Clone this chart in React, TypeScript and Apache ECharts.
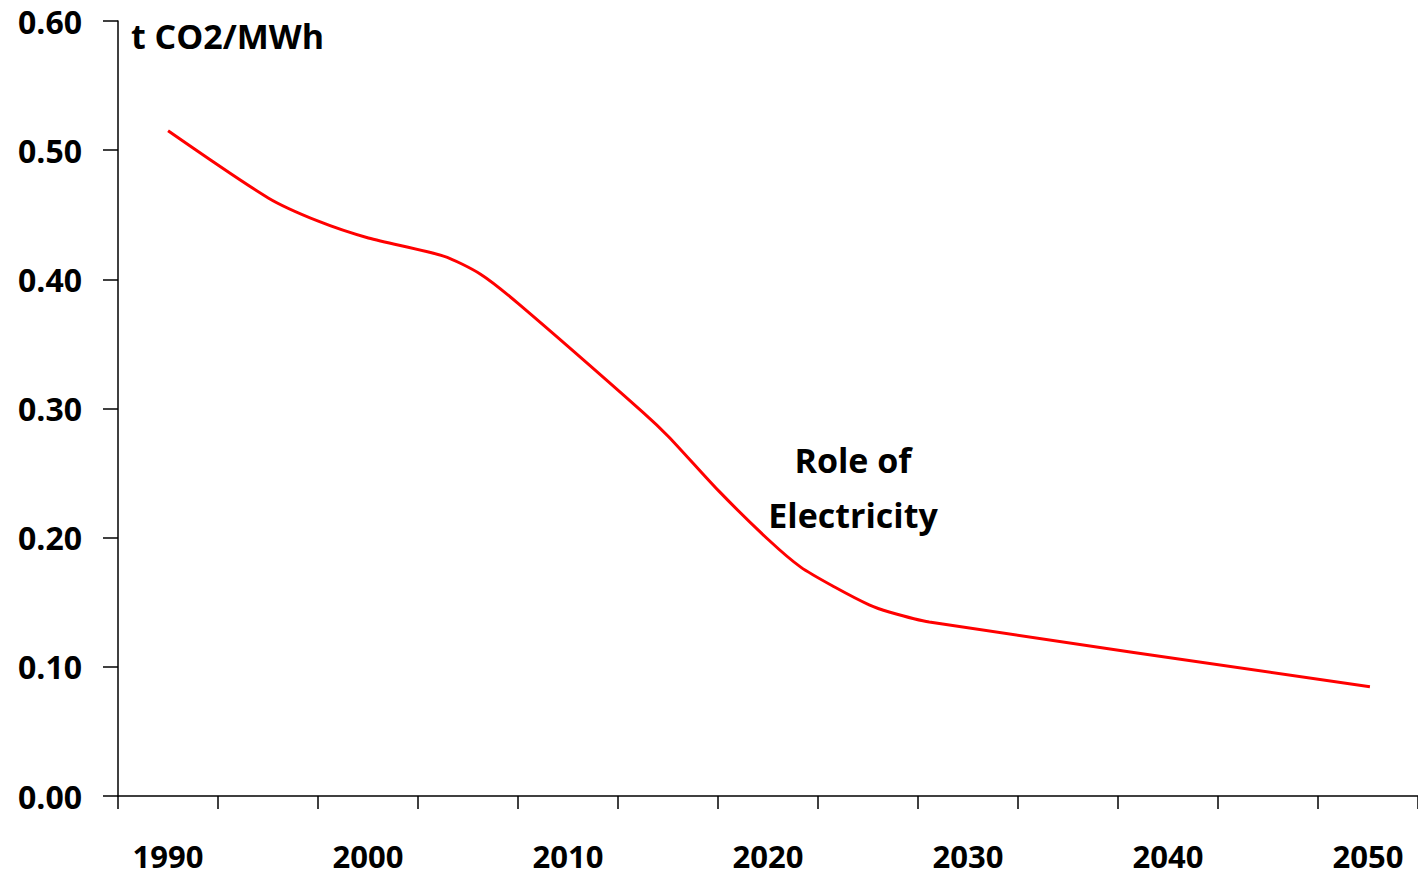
import React, { useEffect, useRef } from "react";
import * as echarts from "echarts";

const categories = ["1990", "1995", "2000", "2005", "2010", "2015", "2020", "2025", "2030", "2035", "2040", "2045", "2050"];
const years = [1990, 1995, 1997.5, 2000, 2003.75, 2005.6, 2007.5, 2013.75, 2015, 2017.5, 2020, 2021.6, 2023.25, 2025, 2026, 2028, 2050];
const values = [0.515, 0.463, 0.445, 0.432, 0.418, 0.404, 0.381, 0.2965, 0.278, 0.236, 0.198, 0.177, 0.162, 0.148, 0.1425, 0.1347, 0.0846];
const unitLabel = "t CO2/MWh";
const annotation = "Role of\nElectricity";

const FONT = "'Open Sans', 'Noto Sans', sans-serif";

export default function App() {
  const ref = useRef<HTMLDivElement>(null);
  useEffect(() => {
    if (!ref.current) return;
    const chart = echarts.init(ref.current, null, { renderer: "svg" });
    const axisColor = "#000";
    chart.setOption({
      animation: false,
      backgroundColor: "#fff",
      grid: { left: 118, right: 0, top: 21, bottom: 79, containLabel: false },
      xAxis: [
        {
          type: "category",
          data: categories,
          boundaryGap: true,
          axisLine: { show: true, lineStyle: { color: axisColor, width: 1.5 } },
          axisTick: { show: true, interval: 0, length: 13, lineStyle: { color: axisColor, width: 1.5 } },
          axisLabel: {
            interval: 1,
            margin: 48,
            color: "#000",
            fontFamily: FONT,
            fontWeight: "bold",
            fontSize: 31,
            lineHeight: 24,
          },
          splitLine: { show: false },
        },
        {
          type: "value",
          min: 1987.5,
          max: 2052.4,
          show: false,
          splitLine: { show: false },
        },
      ],
      yAxis: {
        type: "value",
        min: 0,
        max: 0.6,
        interval: 0.1,
        axisLine: { show: true, lineStyle: { color: axisColor, width: 1.5 } },
        axisTick: { show: true, length: 15, lineStyle: { color: axisColor, width: 1.5 } },
        axisLabel: {
          margin: 36,
          color: "#000",
          fontFamily: FONT,
          fontWeight: "bold",
          fontSize: 32,
          formatter: (v: number) => v.toFixed(2),
        },
        splitLine: { show: false },
      },
      series: [
        {
          type: "line",
          xAxisIndex: 1,
          data: years.map((y, i) => [y, values[i]]),
          smooth: 0.25,
          showSymbol: false,
          symbol: "none",
          lineStyle: { color: "#ff0000", width: 3 },
        },
      ],
      graphic: [
        {
          type: "text",
          left: 131,
          top: 19,
          style: {
            text: unitLabel,
            fontFamily: FONT,
            fontWeight: "bold",
            fontSize: 34,
            fill: "#000",
          },
        },
        {
          type: "text",
          x: 853,
          y: 432,
          style: {
            text: annotation,
            fontFamily: FONT,
            fontWeight: "bold",
            fontSize: 34,
            lineHeight: 55,
            align: "center",
            fill: "#000",
          },
        },
      ],
    });
    return () => chart.dispose();
  }, []);
  return <div ref={ref} style={{ position: "fixed", left: 0, top: 0, width: 1418, height: 875 }} />;
}
